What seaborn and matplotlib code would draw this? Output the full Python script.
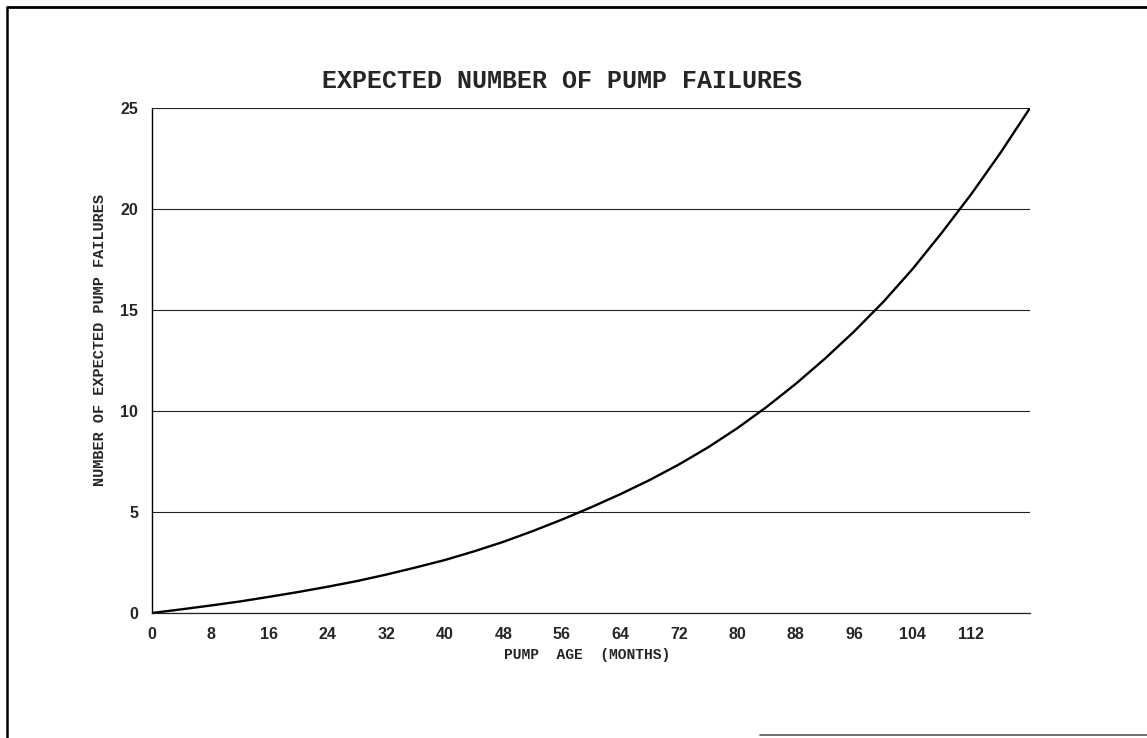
import matplotlib
matplotlib.use("Agg")
import matplotlib.pyplot as plt
from matplotlib.lines import Line2D
import seaborn as sns
import pandas as pd

# Data (every 4 months)
months = [0, 4, 8, 12, 16, 20, 24, 28, 32, 36, 40, 44, 48, 52, 56, 60,
          64, 68, 72, 76, 80, 84, 88, 92, 96, 100, 104, 108, 112, 116, 120]
failures = [0.0, 0.18, 0.37, 0.57, 0.8, 1.04, 1.3, 1.58, 1.9, 2.25, 2.62, 3.05, 3.52, 4.05, 4.62, 5.23,
            5.88, 6.58, 7.35, 8.2, 9.15, 10.2, 11.35, 12.6, 13.95, 15.42, 17.05, 18.85, 20.75, 22.8, 25.0]
x_ticks = [0, 8, 16, 24, 32, 40, 48, 56, 64, 72, 80, 88, 96, 104, 112]
y_ticks = [0, 5, 10, 15, 20, 25]

title = "EXPECTED NUMBER OF PUMP FAILURES"
xlabel = "PUMP  AGE  (MONTHS)"
ylabel = "NUMBER OF EXPECTED PUMP FAILURES"

sns.set_style("white")
plt.rcParams['font.family'] = ['Liberation Sans', 'DejaVu Sans']

df = pd.DataFrame({"month": months, "failures": failures})

W, H = 1147, 738
fig = plt.figure(figsize=(W / 100, H / 100), dpi=100)
ax = fig.add_axes([152 / W, 1 - 613 / H, (1030 - 152) / W, (613 - 108) / H])

sns.lineplot(data=df, x="month", y="failures", ax=ax, color="black", linewidth=1.7)

ax.set_xlim(0, 120)
ax.set_ylim(0, 25)
ax.set_xticks(x_ticks)
ax.set_yticks(y_ticks)
ax.set_xticklabels([str(v) for v in x_ticks], fontsize=11.5, fontweight="bold")
ax.set_yticklabels([str(v) for v in y_ticks], fontsize=11.5, fontweight="bold")
ax.tick_params(axis="x", length=0, pad=10)
ax.tick_params(axis="y", length=7, width=0.8, color="black", pad=3, direction="out")
ax.yaxis.grid(True, color="#222222", linewidth=0.8)
ax.xaxis.grid(False)
for s in ["top", "right"]:
    ax.spines[s].set_visible(False)
ax.spines["left"].set_color("black")
ax.spines["left"].set_linewidth(1.0)
ax.spines["bottom"].set_color("#222222")
ax.spines["bottom"].set_linewidth(0.9)
ax.set_xlabel("")
ax.set_ylabel("")

mono = ['Liberation Mono', 'DejaVu Sans Mono']
fig.text(562 / W, 1 - 81 / H, title, ha="center", va="center",
         fontsize=18, fontweight="bold", family=mono)
fig.text(587 / W, 1 - 655 / H, xlabel, ha="center", va="center",
         fontsize=10.5, fontweight="bold", family=mono)
fig.text(100 / W, 1 - 340 / H, ylabel, ha="center", va="center", rotation=90,
         fontsize=11, fontweight="bold", family=mono)

# Outer frame (scanned page border)
fig.add_artist(Line2D([7 / W, 7 / W], [0, 1 - 8 / H], color="black", linewidth=1.8))
fig.add_artist(Line2D([7 / W, 1], [1 - 7 / H, 1 - 7 / H], color="black", linewidth=2.0))
fig.add_artist(Line2D([760 / W, 1], [1 - 735 / H, 1 - 735 / H], color="#555555", linewidth=1.2))

fig.savefig("out.png", dpi=100, facecolor="white")
